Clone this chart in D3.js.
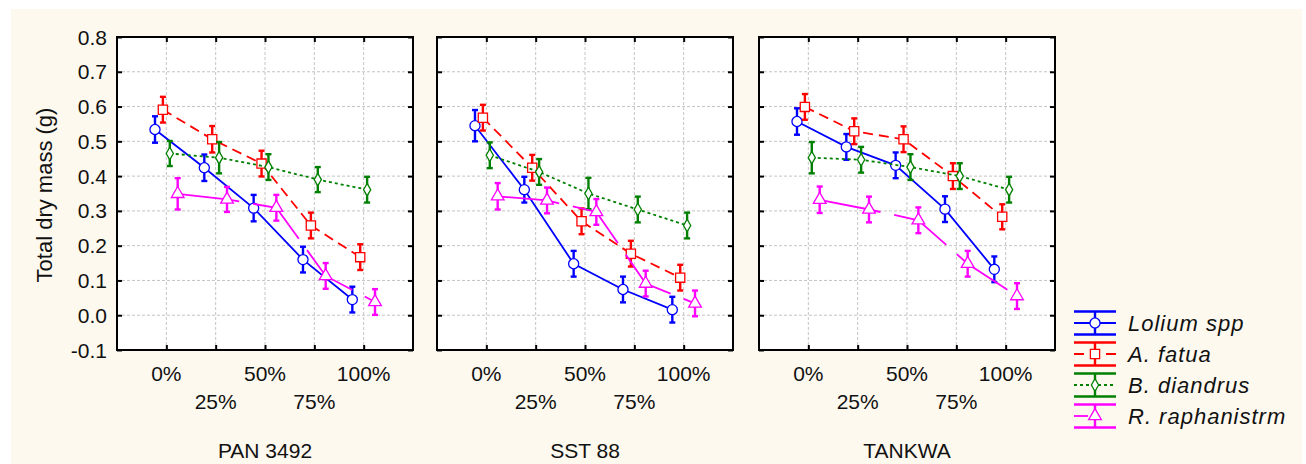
<!doctype html>
<html lang="en">
  <head>
    <meta charset="utf-8">
    <title>Total dry mass by cultivar</title>
    <script src="https://d3js.org/d3.v7.min.js"></script>
    <style>
    body { margin: 0; background: #fff; }
    text { font-family: "Liberation Sans", Arial, sans-serif; fill: #111; }
    .grid line { stroke: #c4c4c4; stroke-dasharray: 3,2; stroke-width: 1; }
    </style>
  </head>

  <body>
    <svg width="1306" height="464"></svg>

    <script>
      // data
      var cultivars = ['PAN 3492', 'SST 88', 'TANKWA'];
      var treatments = ['0%', '25%', '50%', '75%', '100%'];
      var species = ['Lolium spp', 'A. fatua', 'B. diandrus', 'R. raphanistrm'];
      var yTicks = [-0.1, 0.0, 0.1, 0.2, 0.3, 0.4, 0.5, 0.6, 0.7, 0.8];

      // means, one row per cultivar
      var loliumMeans = [
        [0.534, 0.424, 0.308, 0.160, 0.045],
        [0.545, 0.361, 0.148, 0.074, 0.016],
        [0.557, 0.484, 0.431, 0.305, 0.132]
      ];
      var fatuaMeans = [
        [0.591, 0.506, 0.436, 0.258, 0.167],
        [0.568, 0.424, 0.270, 0.177, 0.108],
        [0.599, 0.529, 0.506, 0.400, 0.283]
      ];
      var diandrusMeans = [
        [0.465, 0.453, 0.426, 0.390, 0.361],
        [0.460, 0.412, 0.350, 0.304, 0.258],
        [0.453, 0.447, 0.426, 0.400, 0.361]
      ];
      var raphMeans = [
        [0.349, 0.333, 0.309, 0.113, 0.038],
        [0.342, 0.330, 0.297, 0.091, 0.034],
        [0.332, 0.304, 0.273, 0.148, 0.055]
      ];

      // half widths of the error bars
      var loliumErr = [
        [0.038, 0.038, 0.038, 0.037, 0.037],
        [0.045, 0.037, 0.037, 0.037, 0.037],
        [0.038, 0.037, 0.037, 0.037, 0.037]
      ];
      var fatuaErr = [
        [0.037, 0.038, 0.037, 0.037, 0.037],
        [0.037, 0.037, 0.037, 0.037, 0.037],
        [0.037, 0.037, 0.037, 0.037, 0.036]
      ];
      var diandrusErr = [
        [0.036, 0.045, 0.037, 0.036, 0.037],
        [0.037, 0.037, 0.045, 0.037, 0.037],
        [0.045, 0.037, 0.037, 0.037, 0.037]
      ];
      var raphErr = [
        [0.045, 0.036, 0.037, 0.037, 0.037],
        [0.038, 0.037, 0.037, 0.037, 0.037],
        [0.038, 0.037, 0.037, 0.037, 0.037]
      ];

      var series = [
        { means: loliumMeans, err: loliumErr, color: '#0000ff', dash: null, shape: 'circle', shift: -0.23 },
        { means: fatuaMeans, err: fatuaErr, color: '#ff0000', dash: '10,6', shape: 'square', shift: -0.07 },
        { means: diandrusMeans, err: diandrusErr, color: '#008000', dash: '3,3', shape: 'diamond', shift: 0.07 },
        { means: raphMeans, err: raphErr, color: '#ff00ff', dash: '62,14', shape: 'triangle', shift: 0.23 }
      ];

      var svg = d3.select('svg');

      svg.append('rect')
        .attr('x', 11).attr('y', 9)
        .attr('width', 1291).attr('height', 455)
        .attr('fill', '#fdf9ef');

      var plotTop = 37, plotBottom = 350, panelW = 296;
      var panelX = [117, 437, 759];

      var y = d3.scaleLinear().domain([-0.1, 0.8]).range([plotBottom, plotTop]);

      var symbols = {
        circle: d3.symbol().type(d3.symbolCircle).size(80),
        square: d3.symbol().type(d3.symbolSquare).size(85),
        diamond: d3.symbol().type(d3.symbolDiamond).size(45),
        triangle: d3.symbol().type(d3.symbolTriangle).size(70)
      };

      var line = function(x, s){
        return d3.line()
          .x(function(d, i){ return x(i + s.shift); })
          .y(function(d){ return y(d); });
      };

      cultivars.forEach(function(name, p){
        var x = d3.scaleLinear().domain([-1, 5]).range([panelX[p], panelX[p] + panelW]);
        var g = svg.append('g');

        g.append('rect')
          .attr('x', panelX[p]).attr('y', plotTop)
          .attr('width', panelW).attr('height', plotBottom - plotTop)
          .attr('fill', '#fff');

        var grid = g.append('g').attr('class', 'grid');
        grid.selectAll('.h')
          .data(yTicks.slice(1))
          .enter().append('line')
            .attr('x1', panelX[p]).attr('x2', panelX[p] + panelW)
            .attr('y1', y).attr('y2', y);
        grid.selectAll('.v')
          .data(treatments)
          .enter().append('line')
            .attr('x1', function(d, i){ return x(i); })
            .attr('x2', function(d, i){ return x(i); })
            .attr('y1', plotTop).attr('y2', plotBottom);

        // inward ticks on all four sides
        var axisL = d3.axisRight(y).tickValues(yTicks).tickSize(5).tickFormat('');
        var axisR = d3.axisLeft(y).tickValues(yTicks).tickSize(5).tickFormat('');
        var axisB = d3.axisTop(x).tickValues([0, 1, 2, 3, 4]).tickSize(5).tickFormat('');
        var axisT = d3.axisBottom(x).tickValues([0, 1, 2, 3, 4]).tickSize(5).tickFormat('');
        [[axisL, 'translate(' + panelX[p] + ',0)'],
         [axisR, 'translate(' + (panelX[p] + panelW) + ',0)'],
         [axisB, 'translate(0,' + plotBottom + ')'],
         [axisT, 'translate(0,' + plotTop + ')']].forEach(function(a){
          var ax = g.append('g').attr('transform', a[1]).call(a[0]);
          ax.select('.domain').remove();
          ax.selectAll('line').attr('stroke', '#000').attr('stroke-width', 2);
        });

        g.append('rect')
          .attr('x', panelX[p]).attr('y', plotTop)
          .attr('width', panelW).attr('height', plotBottom - plotTop)
          .attr('fill', 'none').attr('stroke', '#000').attr('stroke-width', 2);

        series.forEach(function(s){
          var vals = s.means[p];
          g.append('path')
            .attr('d', line(x, s)(vals))
            .attr('fill', 'none')
            .attr('stroke', s.color)
            .attr('stroke-width', 1.8)
            .attr('stroke-dasharray', s.dash);

          var eb = g.append('g').attr('stroke', s.color).attr('stroke-width', 2.4).attr('fill', 'none');
          vals.forEach(function(v, i){
            var cx = x(i + s.shift), e = s.err[p][i];
            eb.append('line').attr('x1', cx).attr('x2', cx).attr('y1', y(v + e)).attr('y2', y(v - e));
            eb.append('line').attr('x1', cx - 3).attr('x2', cx + 3).attr('y1', y(v + e)).attr('y2', y(v + e));
            eb.append('line').attr('x1', cx - 3).attr('x2', cx + 3).attr('y1', y(v - e)).attr('y2', y(v - e));
          });

          g.selectAll(null)
            .data(vals)
            .enter().append('path')
              .attr('d', symbols[s.shape])
              .attr('transform', function(d, i){ return 'translate(' + x(i + s.shift) + ',' + y(d) + ')'; })
              .attr('fill', '#fff')
              .attr('stroke', s.color)
              .attr('stroke-width', 1.3);
        });

        // staggered category labels
        g.selectAll('.xl')
          .data(treatments)
          .enter().append('text')
            .attr('x', function(d, i){ return x(i); })
            .attr('y', function(d, i){ return i % 2 ? 409 : 381; })
            .attr('text-anchor', 'middle')
            .style('font-size', '21px')
            .text(function(d){ return d; });

        g.append('text')
          .attr('x', panelX[p] + panelW / 2)
          .attr('y', 458)
          .attr('text-anchor', 'middle')
          .style('font-size', '21px')
          .text(name);
      });

      // y tick labels on the first panel only
      svg.selectAll('.yl')
        .data(yTicks)
        .enter().append('text')
          .attr('x', 107)
          .attr('y', y)
          .attr('dy', '0.36em')
          .attr('text-anchor', 'end')
          .style('font-size', '21px')
          .text(function(d){ return d < 0 ? '-' + Math.abs(d).toFixed(1) : d.toFixed(1); });

      svg.append('text')
        .attr('transform', 'translate(52,195) rotate(-90)')
        .attr('text-anchor', 'middle')
        .style('font-size', '22px')
        .text('Total dry mass (g)');

      // legend
      var legend = svg.append('g').attr('transform', 'translate(1095,323)');
      series.forEach(function(s, i){
        var lg = legend.append('g').attr('transform', 'translate(0,' + i * 31 + ')');
        lg.append('line').attr('x1', -21).attr('x2', 21)
          .attr('stroke', s.color).attr('stroke-width', 1.8).attr('stroke-dasharray', s.dash ? (i === 3 ? '14,30' : s.dash) : null);
        [-11.5, 11.5].forEach(function(cy){
          lg.append('line').attr('x1', -21).attr('x2', 21).attr('y1', cy).attr('y2', cy)
            .attr('stroke', s.color).attr('stroke-width', 2.4);
        });
        lg.append('line').attr('y1', -11.5).attr('y2', 11.5).attr('stroke', s.color).attr('stroke-width', 2.4);
        lg.append('path').attr('d', symbols[s.shape])
          .attr('fill', '#fff').attr('stroke', s.color).attr('stroke-width', 1.3);
        lg.append('text')
          .attr('x', 33).attr('dy', '0.36em')
          .style('font-size', '22px').style('font-style', 'italic').style('letter-spacing', '1px')
          .text(species[i]);
      });
    </script>
  </body>
</html>
